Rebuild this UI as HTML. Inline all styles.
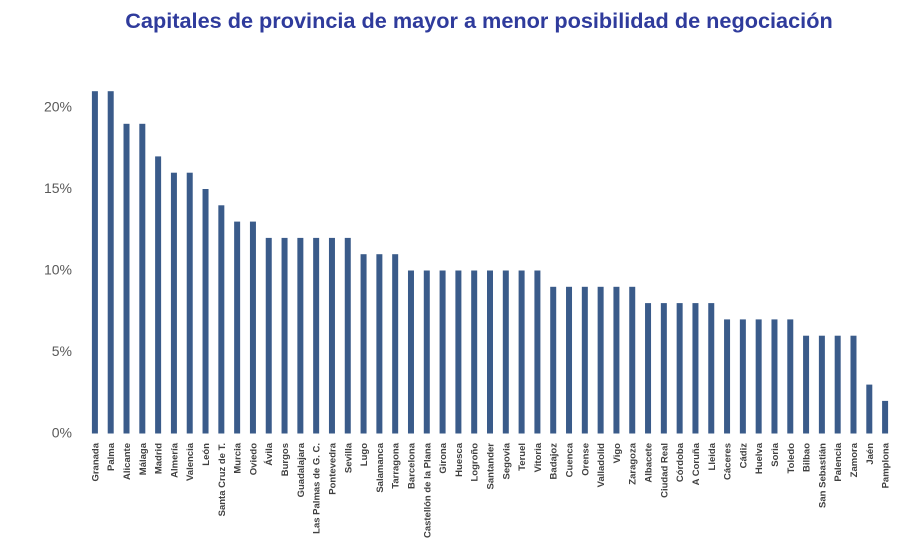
<!DOCTYPE html>
<html><head><meta charset="utf-8"><style>
body{margin:0;background:#fff;width:917px;height:554px;overflow:hidden;font-family:"Liberation Sans",sans-serif}
</style></head><body>
<svg id="chart" width="917" height="554" xmlns="http://www.w3.org/2000/svg">
<text x="479" y="28" text-anchor="middle" font-family="Liberation Sans, sans-serif" font-weight="bold" font-size="21.7" fill="#2f3b9c">Capitales de provincia de mayor a menor posibilidad de negociación</text>
<g id="yaxis"></g><g id="bars"></g><g id="xlabels"></g>
</svg>
<script>
const categories=["Granada","Palma","Alicante","Málaga","Madrid","Almería","Valencia","León","Santa Cruz de T.","Murcia","Oviedo","Ávila","Burgos","Guadalajara","Las Palmas de G. C.","Pontevedra","Sevilla","Lugo","Salamanca","Tarragona","Barcelona","Castellón de la Plana","Girona","Huesca","Logroño","Santander","Segovia","Teruel","Vitoria","Badajoz","Cuenca","Orense","Valladolid","Vigo","Zaragoza","Albacete","Ciudad Real","Córdoba","A Coruña","Lleida","Cáceres","Cádiz","Huelva","Soria","Toledo","Bilbao","San Sebastián","Palencia","Zamora","Jaén","Pamplona"];
const values=[21,21,19,19,17,16,16,15,14,13,13,12,12,12,12,12,12,11,11,11,10,10,10,10,10,10,10,10,10,9,9,9,9,9,9,8,8,8,8,8,7,7,7,7,7,6,6,6,6,3,2];
const yTicks=[0,5,10,15,20];
const tickLabels=["0%","5%","10%","15%","20%"];
const NS="http://www.w3.org/2000/svg";
const x0=87,x1=893,yBase=433.5,pxPerUnit=16.3;
const band=(x1-x0)/categories.length;
const xc=i=>x0+band*(i+0.5);
const y=v=>yBase-v*pxPerUnit;
const yg=document.getElementById('yaxis'),bg=document.getElementById('bars'),lg=document.getElementById('xlabels');
yTicks.forEach((t,i)=>{const el=document.createElementNS(NS,'text');


el.setAttribute('x',72);el.setAttribute('y',y(t)+4);el.setAttribute('text-anchor','end');el.setAttribute('font-size','14');el.setAttribute('fill','#595959');el.textContent=tickLabels[i];yg.appendChild(el);});
categories.forEach((c,i)=>{const r=document.createElementNS(NS,'rect');


r.setAttribute('x',xc(i)-3);r.setAttribute('y',y(values[i]));r.setAttribute('width',6);r.setAttribute('height',yBase-y(values[i]));r.setAttribute('fill','#3a5b8a');bg.appendChild(r);
const t=document.createElementNS(NS,'text');


t.setAttribute('transform','translate('+(xc(i)+3.5)+',443) rotate(-90)');t.setAttribute('text-anchor','end');t.setAttribute('font-size','9.5');t.setAttribute('font-weight','bold');t.setAttribute('fill','#404040');t.textContent=c;lg.appendChild(t);});
</script>
</body></html>
